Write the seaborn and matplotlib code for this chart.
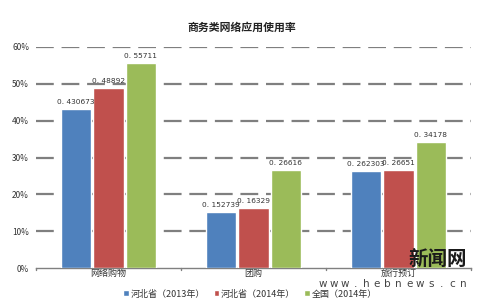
import matplotlib
matplotlib.use("Agg")
import matplotlib.pyplot as plt
import seaborn as sns
import pandas as pd
from matplotlib.ticker import FuncFormatter

categories = ["网络购物", "团购", "旅行预订"]
series = ["河北省（2013年）", "河北省（2014年）", "全国（2014年）"]
hb2013 = [0.430673, 0.152739, 0.262303]
hb2014 = [0.48892, 0.16329, 0.26651]
qg2014 = [0.55711, 0.26616, 0.34178]
yticks = [0, 0.1, 0.2, 0.3, 0.4, 0.5, 0.6]
colors = ["#4F81BD", "#C0504D", "#9BBB59"]
watermark_url = "www.hebnews.cn"

rows = []
for s, vals in zip(series, [hb2013, hb2014, qg2014]):
    for c, v in zip(categories, vals):
        rows.append({"cat": c, "series": s, "val": v})
df = pd.DataFrame(rows)

sns.set_theme(style="white")
plt.rcParams["font.family"] = ["Noto Sans CJK SC", "DejaVu Sans"]

fig = plt.figure(figsize=(4.85, 3.04), dpi=100)
ax = fig.add_axes([36/485, 1-268/304, (471-36)/485, (268-47)/304])

for y in yticks[1:]:
    ax.axhline(y, color="#7f7f7f", lw=1.6, ls=(0, (8, 3.5)), zorder=0)

sns.barplot(data=df, x="cat", y="val", hue="series", palette=colors,
            saturation=1, width=0.67, gap=0.07, ax=ax, legend=True, zorder=3)

for cont, vals in zip(ax.containers, [hb2013, hb2014, qg2014]):
    ax.bar_label(cont, labels=[f"{v:g}".replace("0.", "0. ", 1) for v in vals],
                 fontsize=5.3, padding=3, color="#333333",
                 family="DejaVu Sans")

ax.set_ylim(0, 0.6)
ax.set_xlim(-0.5, 2.5)
ax.set_yticks(yticks)
ax.yaxis.set_major_formatter(FuncFormatter(lambda v, p: f"{v*100:.0f}%"))
ax.tick_params(axis="y", labelsize=6, colors="#333333", pad=5, length=0)
ax.tick_params(axis="x", labelsize=6.5, colors="#333333", pad=1, length=0)
ax.set_xlabel("")
ax.set_ylabel("")
for s in ["top", "right", "left"]:
    ax.spines[s].set_visible(False)
ax.spines["bottom"].set_color("#808080")
ax.spines["bottom"].set_linewidth(1)
for xb in [-0.5, 0.5, 1.5, 2.5]:
    ax.plot([xb, xb], [0, -0.006], color="#808080", lw=1, clip_on=False)

fig.text(242/485, 1-28/304, "商务类网络应用使用率", fontsize=7.8,
         fontweight="bold", color="#222222", ha="center", va="center")

h, l = ax.get_legend_handles_labels()
ax.legend_.remove()
fig.legend(h, l, loc="center", bbox_to_anchor=(250/485, 1-294/304), ncol=3,
           frameon=False, fontsize=6.5, handlelength=0.6, handleheight=0.6,
           handletextpad=0.2, columnspacing=1.0, labelcolor="#333333")

# watermark
fig.text(467/485, 1-259/304, "新闻网", fontsize=14, color="#1a1a1a",
         fontweight="bold", ha="right", va="center",
         family=["Noto Sans CJK SC"])
x0, x1 = 323, 463
n = len(watermark_url)
for i, ch in enumerate(watermark_url):
    xp = x0 + (x1 - x0) * i / (n - 1)
    fig.text(xp/485, 1-284/304, ch, fontsize=7.5, color="#444444",
             ha="center", va="center", family="DejaVu Sans")

fig.savefig("out.png", dpi=100)
